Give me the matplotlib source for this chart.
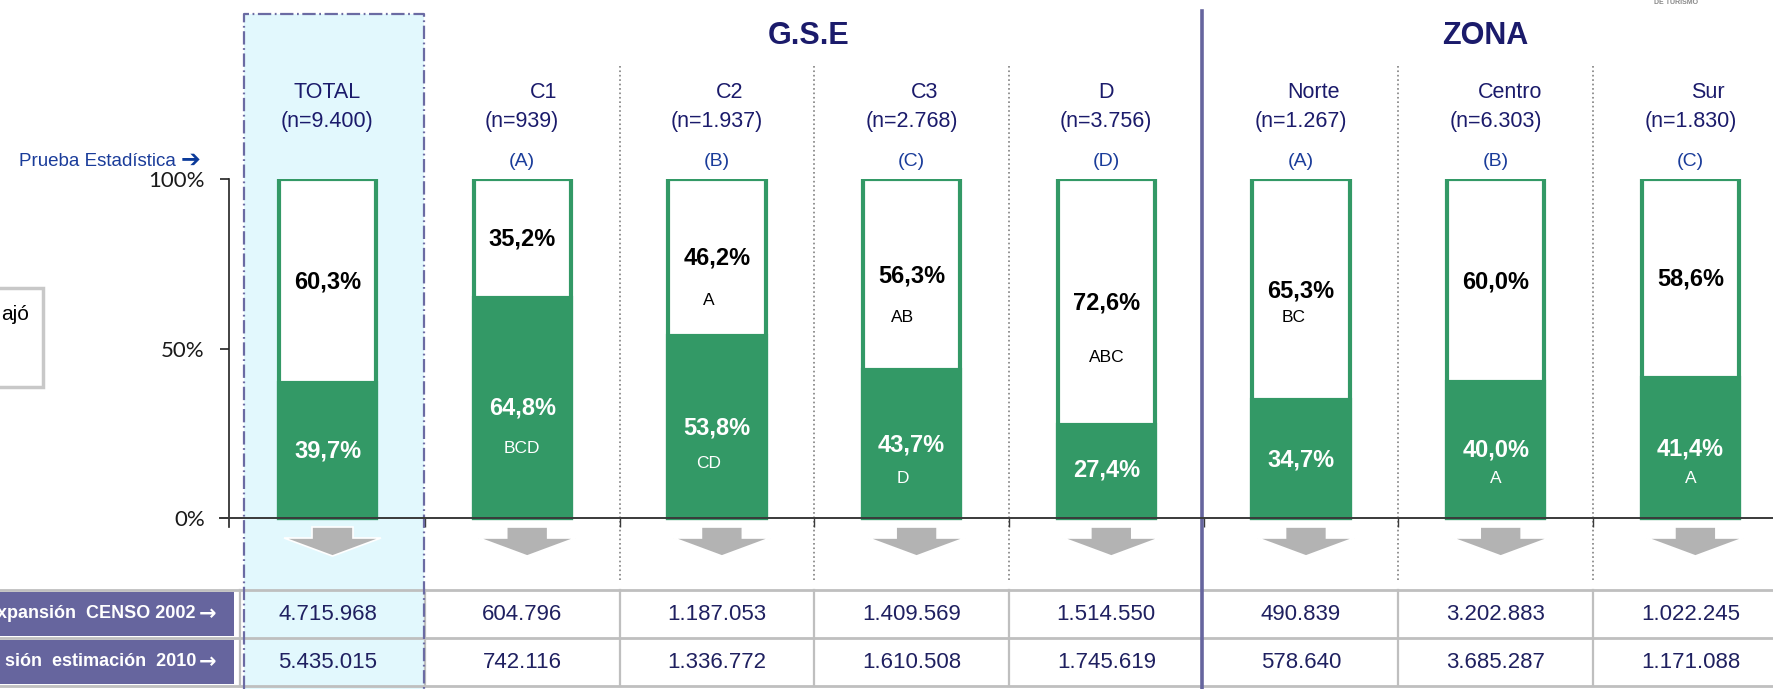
import matplotlib.pyplot as plt
from matplotlib.patches import Rectangle, Polygon

plt.rcParams['font.family'] = ['Liberation Sans', 'DejaVu Sans']

# --- data ---
groups = ['TOTAL', 'C1', 'C2', 'C3', 'D', 'Norte', 'Centro', 'Sur']
sizes = ['(n=9.400)', '(n=939)', '(n=1.937)', '(n=2.768)', '(n=3.756)',
         '(n=1.267)', '(n=6.303)', '(n=1.830)']
test_ids = ['', '(A)', '(B)', '(C)', '(D)', '(A)', '(B)', '(C)']
pct_no = [60.3, 35.2, 46.2, 56.3, 72.6, 65.3, 60.0, 58.6]
pct_yes = [39.7, 64.8, 53.8, 43.7, 27.4, 34.7, 40.0, 41.4]
sig_no = ['', '', 'A', 'AB', 'ABC', 'BC', '', '']
sig_yes = ['', 'BCD', 'CD', 'D', '', '', 'A', 'A']
censo_2002 = ['4.715.968', '604.796', '1.187.053', '1.409.569', '1.514.550',
              '490.839', '3.202.883', '1.022.245']
estim_2010 = ['5.435.015', '742.116', '1.336.772', '1.610.508', '1.745.619',
              '578.640', '3.685.287', '1.171.088']
# only the visible part of the row labels and legend (cut by the slide edge)
row_labels = ['xpansión  CENSO 2002', 'sión  estimación  2010']
legend_text = 'ajó'

# --- layout (label heights in % units, offsets in pixels) ---
lbl_no_y = [69.6, 82.3, 76.7, 71.4, 63.4, 67.0, 69.6, 70.5]
sig_no_y = [0, 0, 64.3, 59.3, 47.3, 59.3, 0, 0]
lbl_yes_y = [19.7, 32.4, 26.5, 21.5, 14.2, 17.2, 20.0, 20.4]
sig_yes_y = [0, 20.6, 16.2, 11.8, 0, 0, 11.7, 11.7]
sig_dx = [0, 0, -8, -9, 0, -7, 0, 0]
name_dx = [0, 21, 13, 13, 0, 13, 14, 17]

W, H = 1774, 689
X0, DX = 327.5, 194.7      # pixel of first bar centre, pixel step
Y0, DY = 518.0, 3.3885     # pixel of 0 %, pixels per %


def px_x(p):
    return (p - X0) / DX


def px_y(p):
    return (Y0 - p) / DY


green = '#339966'
navy = '#1B1B6B'
blue = '#1A3C9A'
purple = '#66659E'
grid_grey = '#BFBFBF'

fig = plt.figure(figsize=(W / 100, H / 100), dpi=100)
ax = fig.add_axes([229 / W, (H - 527) / H, (W - 229) / W, (527 - 179) / H])
ax.set_facecolor('none')
ax.set_xlim(px_x(229), px_x(W))
ax.set_ylim(px_y(527), px_y(179))

x = list(range(len(groups)))

# TOTAL column highlight
l_tot, r_tot = px_x(244), px_x(424)
ax.add_patch(Rectangle((l_tot, px_y(H)), r_tot - l_tot, px_y(14) - px_y(H),
                       fc='#E2F8FD', ec='none', clip_on=False, zorder=0))
ax.plot([l_tot, l_tot, r_tot, r_tot], [px_y(H), px_y(14), px_y(14), px_y(H)],
        color='#6B6BA3', lw=1.6, ls=(0, (6, 1.6, 0.8, 1.6)), clip_on=False, zorder=2)

# column separators
for b in [1.5, 2.5, 3.5, 5.5, 6.5]:
    ax.plot([b, b], [px_y(66), px_y(582)], color='#808080', lw=1.2, ls=':',
            clip_on=False, zorder=1)
ax.plot([4.49, 4.49], [px_y(11), px_y(H)], color=purple, lw=2.6,
        clip_on=False, zorder=2)

# bars
ax.bar(x, [100] * len(x), width=0.5, color='white', edgecolor=green, linewidth=3,
       zorder=3)
ax.bar(x, pct_yes, width=0.5, color=green, edgecolor=green, linewidth=3, zorder=3)

# axis line at 0 and left spine
ax.plot([px_x(220), px_x(W)], [0, 0], color='#3A3A3A', lw=1.4, clip_on=False, zorder=4)
for s in ['top', 'right', 'bottom']:
    ax.spines[s].set_visible(False)
ax.spines['left'].set_color('#222222')
ax.spines['left'].set_linewidth(1.2)
ax.set_yticks([0, 50, 100])
ax.set_yticklabels(['0%', '50%', '100%'], family=['Lato', 'DejaVu Sans'],
                   fontsize=16, color='#1A1A1A')
ax.tick_params(axis='y', direction='out', length=6.5, width=1.2, pad=11,
               color='#222222')
ax.set_xticks([i + 0.5 for i in range(7)])
ax.set_xticklabels([])
ax.tick_params(axis='x', direction='in', length=6.5, width=1.0, color='#3A3A3A')

# labels inside bars
for i in x:
    ax.text(i, lbl_no_y[i], f'{pct_no[i]:.1f}%'.replace('.', ','), ha='center',
            va='center', fontsize=17, fontweight='bold', color='black', zorder=5)
    ax.text(i, lbl_yes_y[i], f'{pct_yes[i]:.1f}%'.replace('.', ','), ha='center',
            va='center', fontsize=17, fontweight='bold', color='white', zorder=5)
    if sig_no[i]:
        ax.text(i + sig_dx[i] / DX, sig_no_y[i], sig_no[i], ha='center', va='center',
                fontsize=12.5, color='black', zorder=5)
    if sig_yes[i]:
        ax.text(i + sig_dx[i] / DX, sig_yes_y[i], sig_yes[i], ha='center',
                va='center', fontsize=12.5, color='white', zorder=5)

# headers
for i in x:
    ax.text(i + name_dx[i] / DX, px_y(92), groups[i], ha='center', va='center',
            fontsize=15.5, color=navy, clip_on=False)
    ax.text(i, px_y(122), sizes[i], ha='center', va='center', fontsize=15.5,
            color=navy, clip_on=False)
    if test_ids[i]:
        ax.text(i, px_y(162), test_ids[i], ha='center', va='center', fontsize=14,
                color=blue, clip_on=False)
ax.text(px_x(176), px_y(162), 'Prueba Estadística', ha='right', va='center',
        fontsize=13.5, color=blue, clip_on=False)
ax.text(px_x(200), px_y(160), '➔', ha='right', va='center', family='DejaVu Sans',
        fontsize=17, color='#0B3A9A', clip_on=False)
ax.text(2.47, px_y(36), 'G.S.E', ha='center', va='center', fontsize=22,
        fontweight='bold', color=navy, clip_on=False)
ax.text(px_x(1485), px_y(36), 'ZONA', ha='center', va='center', fontsize=22,
        fontweight='bold', color=navy, clip_on=False)

# down arrows under each bar
sw, hw = 20.5 / DX, 48.5 / DX
a_top, a_mid, a_tip = px_y(527), px_y(538), px_y(556)
for i in x:
    c = i + 5 / DX
    pts = [(c - sw, a_top), (c + sw, a_top), (c + sw, a_mid), (c + hw, a_mid),
           (c, a_tip), (c - hw, a_mid), (c - sw, a_mid)]
    ax.add_patch(Polygon(pts, closed=True, fc='#B3B3B3', ec='white', lw=1.2,
                         clip_on=False, zorder=3))

# table
rows = [censo_2002, estim_2010]
edges = [590, 638, 686]
for r, vals in enumerate(rows):
    top, bot = edges[r] + 2, edges[r + 1] - 2
    ax.add_patch(Rectangle((px_x(0), px_y(bot)), px_x(234) - px_x(0),
                           px_y(top) - px_y(bot), fc=purple, ec='none',
                           clip_on=False, zorder=2))
    yc = px_y((edges[r] + edges[r + 1]) / 2)
    ax.text(px_x(196), yc, row_labels[r], ha='right', va='center', fontsize=13,
            fontweight='bold', color='white', clip_on=False, zorder=5)
    ax.text(px_x(216), yc, '→', ha='right', va='center', family='DejaVu Sans',
            fontsize=15, fontweight='bold', color='white', clip_on=False, zorder=5)
    for i in x:
        ax.text(i, yc, vals[i], ha='center', va='center', fontsize=16,
                color='#1F2060', clip_on=False, zorder=5)
for e in edges:
    ax.plot([px_x(0), px_x(W)], [px_y(e), px_y(e)], color=grid_grey, lw=2,
            clip_on=False, zorder=1)
for b in [px_x(240), 0.5, 1.5, 2.5, 3.5, 5.5, 6.5]:
    ax.plot([b, b], [px_y(590), px_y(686)], color=grid_grey, lw=1.6,
            clip_on=False, zorder=1)

# partially visible legend box on the left edge
ax.add_patch(Rectangle((px_x(-20), px_y(387)), px_x(43) - px_x(-20),
                       px_y(288) - px_y(387), fc='white', ec='#C8C8C8', lw=2.5,
                       clip_on=False, zorder=2))
ax.text(px_x(1), px_y(315), legend_text, ha='left', va='center', fontsize=15,
        color='black', clip_on=False, zorder=5)

fig.text(1676 / W, 1 - 3 / H, 'DE TURISMO', ha='center', va='center', fontsize=5,
         fontweight='bold', color='#888888')

fig.savefig('out.png', dpi=100)
